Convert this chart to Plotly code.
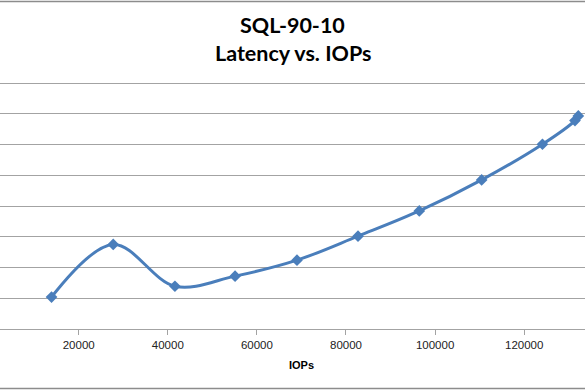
import plotly.graph_objects as go

# Data
iops = [13900, 27750, 41600, 55100, 69000, 82700, 96450, 110450, 124100, 131400, 132150]
latency = [1.04, 2.75, 1.39, 1.72, 2.24, 3.02, 3.84, 4.85, 6.01, 6.78, 6.93]
x_ticks = [20000, 40000, 60000, 80000, 100000, 120000]
title_lines = ["SQL-90-10", "Latency vs. IOPs"]
x_title = "IOPs"

BLUE = "#4A7EBB"
GRID = "#A3A3A3"

fig = go.Figure()
fig.add_trace(go.Scatter(
    x=iops, y=latency, mode="lines+markers",
    line=dict(color=BLUE, width=3, shape="spline", smoothing=1.0),
    marker=dict(symbol="diamond", size=9, color=BLUE),
    showlegend=False, hoverinfo="x+y",
))

T, B = 80, 61
H = 390 - T - B


def py(pix):
    # pixel row -> paper y
    return (390 - B - pix) / H


fig.update_layout(
    width=585, height=390,
    margin=dict(l=0, r=0, t=T, b=B),
    paper_bgcolor="white", plot_bgcolor="white",
    xaxis=dict(range=[2334, 133650], tickvals=x_ticks, ticktext=[str(v) for v in x_ticks],
               showgrid=False, zeroline=False, showline=True, linecolor=GRID, linewidth=1,
               ticks="outside", ticklen=5, tickcolor=GRID,
               tickfont=dict(family="Liberation Sans", size=11.5, color="#222")),
    yaxis=dict(range=[0, 8.1], tickvals=list(range(0, 9)), showgrid=True, gridcolor=GRID, gridwidth=1,
               showticklabels=False, zeroline=False, showline=False, ticks=""),
)

for txt, yc in zip(title_lines, [25, 53]):
    fig.add_annotation(x=0.5, xref="paper", y=py(yc), yref="paper", text="<b>" + txt + "</b>",
                       showarrow=False, xanchor="center", yanchor="middle",
                       font=dict(family="Lato", size=21.5, color="black"))

fig.add_annotation(x=70000, xref="x", y=py(365), yref="paper", text="<b>" + x_title + "</b>",
                   showarrow=False, xanchor="center", yanchor="middle",
                   font=dict(family="Liberation Sans", size=11, color="black"))

# Chart-area border (top and bottom visible)
for yy in [1.5, 388.5]:
    fig.add_shape(type="line", xref="paper", yref="paper", x0=0, x1=1, y0=py(yy), y1=py(yy),
                  line=dict(color="#8C8C8C", width=1.5), layer="above")

fig.write_html("out.html", config={"displayModeBar": False},
               post_script="document.body.style.margin='0';")
